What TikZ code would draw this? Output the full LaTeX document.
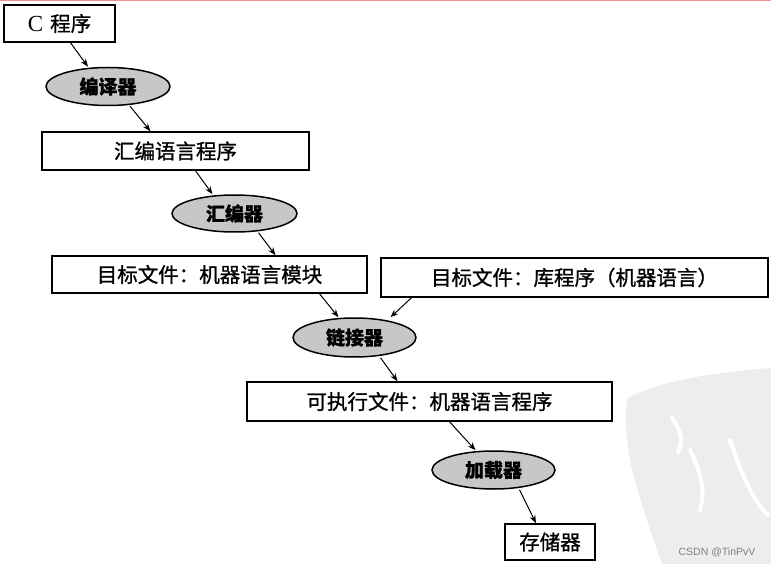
\documentclass[tikz,border=0pt]{standalone}
\usepackage{fontspec}
\setmainfont{Liberation Serif}
\newfontfamily\cjk[FakeBold=1.0]{Noto Sans CJK SC}
\newfontfamily\wmfont{Liberation Sans}
\usetikzlibrary{shapes.geometric,arrows.meta}
\tikzset{
  boxnode/.style={draw=black, line width=1.5pt, fill=white, minimum height=37pt, inner sep=0pt,
    font=\fontsize{20.5pt}{22pt}\selectfont\cjk},
  ovalnode/.style={ellipse, draw=black, line width=1.5pt, fill=black!22, inner sep=0pt,
    minimum width=124pt, minimum height=38pt, font=\fontsize{19pt}{21pt}\selectfont\cjk\bfseries},
  link/.style={line width=1pt, -{Stealth[length=8pt,width=6pt]}}
}
\begin{document}
\begin{tikzpicture}[x=1pt,y=-1pt]
\useasboundingbox (0,0) rectangle (771,564);
\fill[white] (0,0) rectangle (771,564);
\draw[line width=1pt, red!45] (0,0.5) -- (771,0.5);
% faint seal watermark
\fill[black!7] (628,398) .. controls (660,380) and (720,372) .. (771,368) -- (771,564) -- (662,564) .. controls (650,530) and (640,500) .. (632,470) .. controls (626,440) and (624,415) .. cycle;
\draw[white, line width=4pt, line cap=round] (672,418) .. controls (680,430) and (684,440) .. (678,452);
\draw[white, line width=4pt, line cap=round] (690,450) .. controls (700,470) and (706,490) .. (700,510);
\draw[white, line width=4pt, line cap=round] (730,440) .. controls (740,470) and (752,500) .. (768,515);
\node[text=black!50, font=\fontsize{10.5pt}{12pt}\selectfont\wmfont] (wm) at (717,552) {CSDN @TinPvV};

\node[boxnode, minimum width=111pt] (cprog) at (59.5,23.5) {{\rmfamily\fontsize{23pt}{24pt}\selectfont C}\hspace{7pt}程序};
\node[ovalnode] (comp) at (108,86.5) {编译器};
\node[boxnode, minimum width=267pt, minimum height=38pt] (asm) at (175.5,151) {汇编语言程序};
\node[ovalnode, minimum width=125pt, minimum height=37pt] (asmr) at (234.5,213.5) {汇编器};
\node[boxnode, minimum width=315pt] (obj) at (209.5,274.5) {目标文件：机器语言模块};
\node[boxnode, minimum width=387pt, minimum height=39pt] (lib) at (574.5,277.5) {目标文件：库程序（机器语言）};
\node[ovalnode, minimum width=123pt, minimum height=39pt] (lnk) at (354.5,337.5) {链接器};
\node[boxnode, minimum width=365pt, minimum height=39pt] (exe) at (429.5,401.5) {可执行文件：机器语言程序};
\node[ovalnode, minimum width=123pt] (load) at (493.5,470) {加载器};
\node[boxnode, minimum width=90pt, minimum height=36pt] (mem) at (550,542) {存储器};

\draw[link] ([xshift=11pt]cprog.south) -- ([xshift=-20pt]comp.north);
\draw[link] ([xshift=22pt]comp.south) -- ([xshift=-25pt]asm.north);
\draw[link] ([xshift=20pt]asm.south) -- ([xshift=-22pt]asmr.north);
\draw[link] ([xshift=24pt]asmr.south) -- ([xshift=66pt]obj.north);
\draw[link] ([xshift=110pt]obj.south) -- ([xshift=-16pt]lnk.north);
\draw[link] ([xshift=-163pt]lib.south) -- ([xshift=36pt]lnk.north);
\draw[link] ([xshift=26pt]lnk.south) -- ([xshift=-32pt]exe.north);
\draw[link] ([xshift=20pt]exe.south) -- ([xshift=-18pt]load.north);
\draw[link] ([xshift=26pt]load.south) -- ([xshift=-14pt]mem.north);
\end{tikzpicture}
\end{document}
